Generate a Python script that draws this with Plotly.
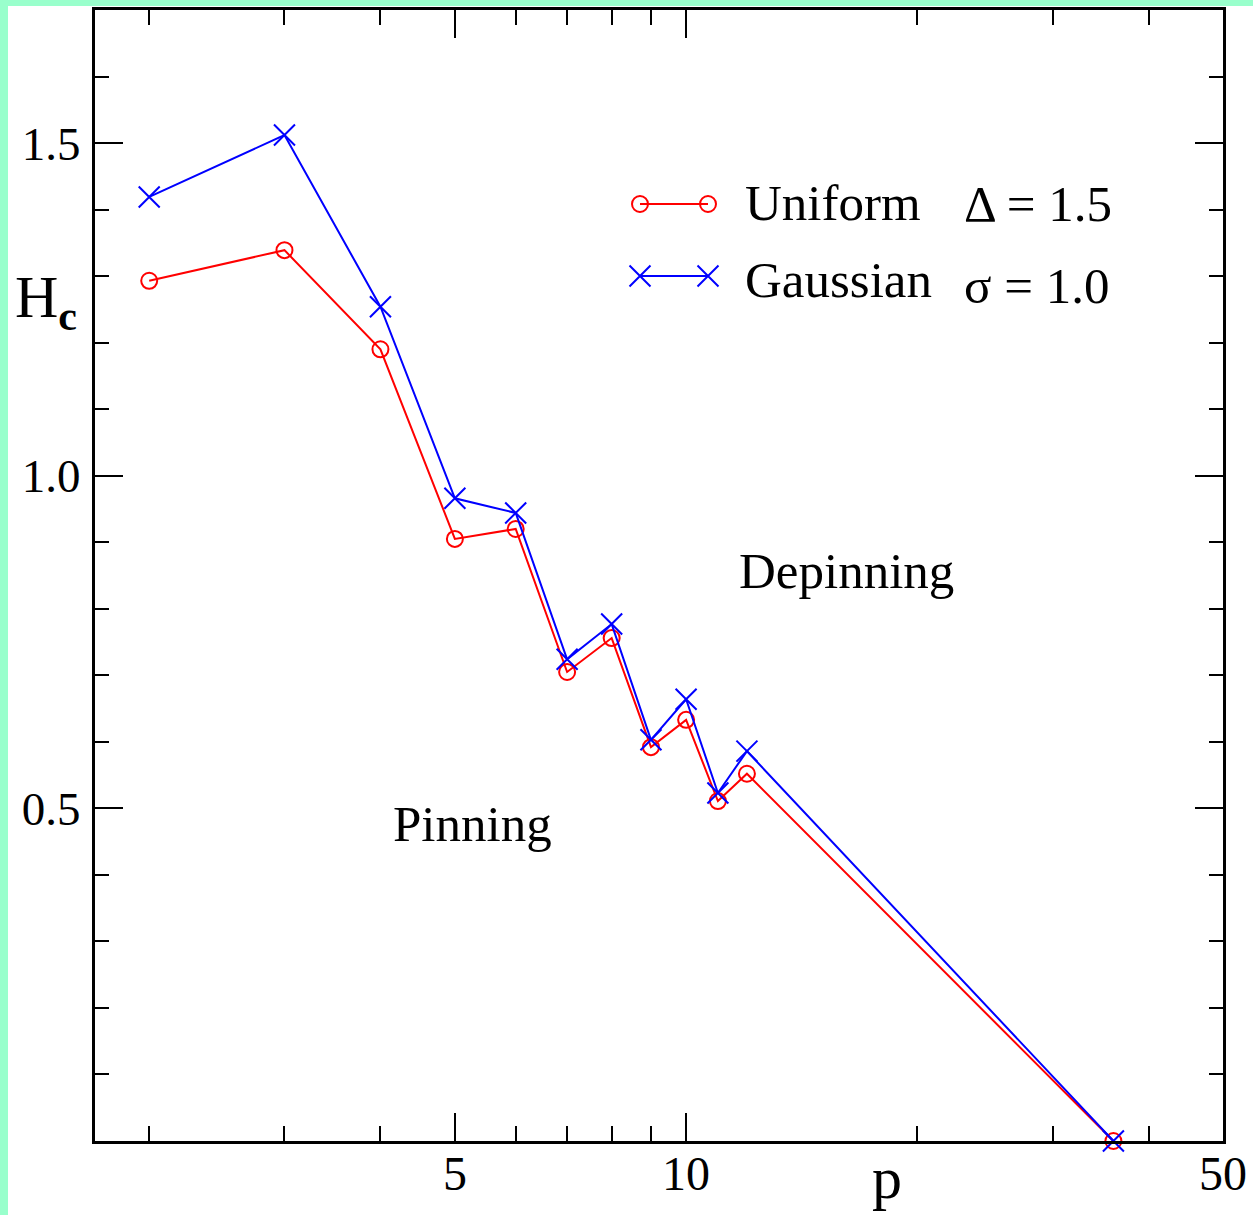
import math
import plotly.graph_objects as go

# Critical field H_c versus p for two disorder distributions
p_values = [2, 3, 4, 5, 6, 7, 8, 9, 10, 11, 12, 36]
hc_uniform = [1.293, 1.339, 1.190, 0.905, 0.920, 0.705, 0.756, 0.592, 0.633, 0.511, 0.552, 0.0]
hc_gaussian = [1.419, 1.512, 1.254, 0.966, 0.944, 0.724, 0.777, 0.603, 0.664, 0.523, 0.586, 0.0]

series_names = ["Uniform", "Gaussian"]
series_params = ["\u0394 = 1.5", "\u03c3 = 1.0"]

x_major_ticks = [5, 10, 50]
x_major_labels = ["5", "10", "50"]
x_minor_ticks = [2, 3, 4, 6, 7, 8, 9, 20, 30, 40]
y_major_ticks = [0.5, 1.0, 1.5]
y_major_labels = ["0.5", "1.0", "1.5"]

# Figure geometry (pixels)
W, H = 1253, 1215
ML, MR, MT, MB = 95, 30, 10, 74
PW, PH = W - ML - MR, H - MT - MB

FONT = "Liberation Serif"
RED = "#ff0000"
BLUE = "#0000ff"
MINT = "rgb(153,255,204)"


def px_x(px):
    return (px - ML) / PW


def px_y(py):
    return (H - MB - py) / PH


fig = go.Figure()

fig.add_trace(go.Scatter(
    x=p_values, y=hc_uniform, mode="lines+markers", name=series_names[0],
    line=dict(color=RED, width=2),
    marker=dict(symbol="circle-open", size=16, color=RED, line=dict(width=2, color=RED)),
    cliponaxis=False, showlegend=False,
))
fig.add_trace(go.Scatter(
    x=p_values, y=hc_gaussian, mode="lines+markers", name=series_names[1],
    line=dict(color=BLUE, width=2),
    marker=dict(symbol="x-thin-open", size=21, color=BLUE, line=dict(width=2, color=BLUE)),
    cliponaxis=False, showlegend=False,
))

# Legend keys: a short segment with a marker at each end, on an overlay unit axis
key_x = [px_x(640), px_x(708)]
key_y = [px_y(204), px_y(276)]
fig.add_trace(go.Scatter(
    x=key_x, y=[key_y[0]] * 2, xaxis="x2", yaxis="y2", mode="lines+markers",
    line=dict(color=RED, width=2),
    marker=dict(symbol="circle-open", size=16, color=RED, line=dict(width=2, color=RED)),
    showlegend=False, hoverinfo="skip",
))
fig.add_trace(go.Scatter(
    x=key_x, y=[key_y[1]] * 2, xaxis="x2", yaxis="y2", mode="lines+markers",
    line=dict(color=BLUE, width=2),
    marker=dict(symbol="x-thin-open", size=21, color=BLUE, line=dict(width=2, color=BLUE)),
    showlegend=False, hoverinfo="skip",
))


def label(text, cx, cy, size, xanchor="center"):
    return dict(
        x=px_x(cx), y=px_y(cy), xref="paper", yref="paper",
        xanchor=xanchor, yanchor="middle", text=text, showarrow=False,
        font=dict(family=FONT, size=size, color="black"),
    )


annotations = [
    label(series_names[0], 743, 203, 51, "left"),
    label(series_params[0], 962, 204, 51, "left"),
    label(series_names[1], 743, 280, 51, "left"),
    label(series_params[1], 962, 286, 51, "left"),
    label("Depinning", 846, 571, 51),
    label("Pinning", 472, 824, 51),
    label("H<sub><b>c</b></sub>", 46, 301, 60),
    label("p", 887, 1178, 60),
]

# Mint strips along the left and top edges of the page
shapes = [
    dict(type="rect", xref="paper", yref="paper", layer="below",
         x0=px_x(0), x1=px_x(8), y0=px_y(H), y1=px_y(0),
         fillcolor=MINT, line=dict(width=0)),
    dict(type="rect", xref="paper", yref="paper", layer="below",
         x0=px_x(0), x1=px_x(W), y0=px_y(6), y1=px_y(0),
         fillcolor=MINT, line=dict(width=0)),
]

fig.update_layout(
    width=W, height=H,
    margin=dict(l=ML, r=MR, t=MT, b=MB, pad=0, autoexpand=False),
    paper_bgcolor="white", plot_bgcolor="white",
    font=dict(family=FONT, color="black"),
    showlegend=False,
    annotations=annotations,
    shapes=shapes,
    xaxis=dict(
        type="log", range=[math.log10(1.7), math.log10(50)],
        tickmode="array", tickvals=x_major_ticks, ticktext=x_major_labels,
        ticks="inside", ticklen=28, tickwidth=2, tickcolor="black",
        minor=dict(tickmode="array", tickvals=x_minor_ticks, ticks="inside",
                   ticklen=15, tickwidth=2, tickcolor="black"),
        showline=True, linecolor="black", linewidth=3, mirror="ticks",
        showgrid=False, zeroline=False, automargin=False,
        tickfont=dict(family=FONT, size=48, color="black"),
        ticklabelstandoff=-12,
    ),
    yaxis=dict(
        range=[0, 1.7],
        tickmode="array", tickvals=y_major_ticks, ticktext=y_major_labels,
        ticks="inside", ticklen=28, tickwidth=2, tickcolor="black",
        minor=dict(tickmode="linear", tick0=0, dtick=0.1, ticks="inside",
                   ticklen=14, tickwidth=2, tickcolor="black"),
        showline=True, linecolor="black", linewidth=3, mirror="ticks",
        showgrid=False, zeroline=False, automargin=False,
        tickfont=dict(family=FONT, size=47, color="black"),
        ticklabelstandoff=2,
    ),
    xaxis2=dict(overlaying="x", range=[0, 1], visible=False, fixedrange=True),
    yaxis2=dict(overlaying="y", range=[0, 1], visible=False, fixedrange=True),
)

fig.write_html("out.html")
